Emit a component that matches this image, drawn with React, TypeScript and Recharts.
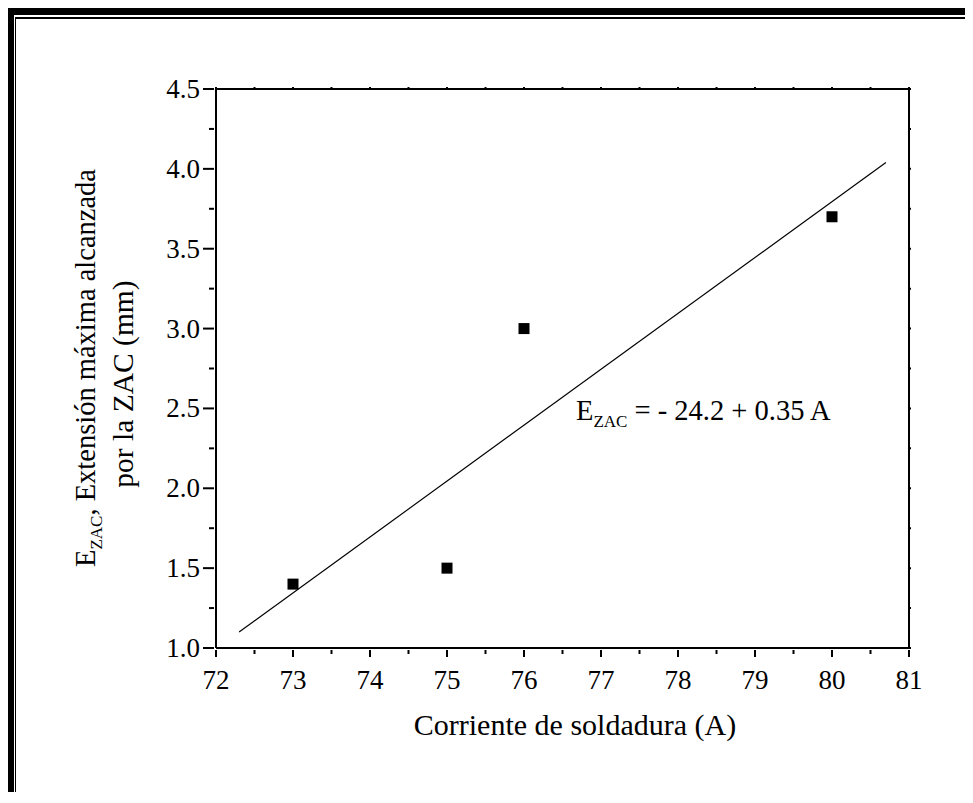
import React from "react";
import {
  ComposedChart,
  Scatter,
  Line,
  XAxis,
  YAxis,
  ZAxis,
} from "recharts";

// corriente (A) vs extensión de la ZAC (mm)
const corriente = [73, 75, 76, 80];
const extension = [1.4, 1.5, 3.0, 3.7];

// recta de ajuste E = -24.2 + 0.35 A (extremos)
const ajusteX = [72.3, 80.7];
const ajusteY = [1.1, 4.04];

const xTicks = [72, 72.5, 73, 73.5, 74, 74.5, 75, 75.5, 76, 76.5, 77, 77.5, 78, 78.5, 79, 79.5, 80, 80.5, 81];
const yTicks = [1, 1.25, 1.5, 1.75, 2, 2.25, 2.5, 2.75, 3, 3.25, 3.5, 3.75, 4, 4.25, 4.5];

const puntos = corriente.map((x, i) => ({ x, y: extension[i] }));
const ajuste = ajusteX.map((x, i) => ({ x, y: ajusteY[i] }));

const FONT = "'Liberation Serif', 'Times New Roman', serif";
const W = 965;
const H = 792;
const txt = { fontFamily: FONT, fill: "#000" };

const isMajor = (v: number) => Math.abs(v * 2 - Math.round(v * 2)) < 1e-6;

function BottomTick(props: any) {
  const { x, y, payload } = props;
  const major = Number.isInteger(payload.value);
  return (
    <g>
      <line x1={x} y1={y} x2={x} y2={y + (major ? 7 : 4)} stroke="#000" strokeWidth={2} />
      {major && (
        <text x={x} y={y + 39} textAnchor="middle" fontSize={27} style={txt}>
          {payload.value}
        </text>
      )}
    </g>
  );
}

function LeftTick(props: any) {
  const { x, y, payload } = props;
  const major = isMajor(payload.value);
  return (
    <g>
      <line x1={x} y1={y} x2={x - (major ? 11 : 5)} y2={y} stroke="#000" strokeWidth={2} />
      {major && (
        <text x={x - 14} y={y + 9} textAnchor="end" fontSize={27} style={txt}>
          {payload.value.toFixed(1)}
        </text>
      )}
    </g>
  );
}

function TopTick(props: any) {
  const { x, y } = props;
  return <line x1={x} y1={y} x2={x} y2={y + 2} stroke="#000" strokeWidth={2} />;
}

function RightTick(props: any) {
  const { x, y } = props;
  return <line x1={x} y1={y} x2={x - 2} y2={y} stroke="#000" strokeWidth={2} />;
}

const Cuadro = (props: any) => {
  const { cx, cy } = props;
  return <rect x={cx - 5.5} y={cy - 5.5} width={11} height={11} fill="#000" />;
};

export default function App() {
  return (
    <div style={{ position: "relative", width: W, height: H, overflow: "hidden", marginBottom: -8, background: "#fff" }}>
      {/* marco doble */}
      <div style={{ position: "absolute", left: 0, top: 0, width: W + 20, height: H + 20, borderLeft: "6px solid #000", borderTop: "7px solid #000", boxSizing: "border-box" }} />
      <div style={{ position: "absolute", left: 7, top: 9, width: W + 20, height: 783, borderLeft: "1.5px solid #000", borderTop: "2px solid #000", borderBottom: "2px solid #000", boxSizing: "border-box" }} />

      <div style={{ position: "absolute", left: 0, top: 0 }}>
        <ComposedChart width={W} height={H} margin={{ top: 51, right: 4, bottom: 122, left: 148 }}>
          <XAxis
            xAxisId="b"
            dataKey="x"
            type="number"
            domain={[72, 81]}
            ticks={xTicks}
            interval={0}
            height={30}
            tickSize={0}
            tickLine={false}
            axisLine={{ stroke: "#000", strokeWidth: 2 }}
            tick={<BottomTick />}
            allowDataOverflow
          />
          <XAxis
            xAxisId="t"
            orientation="top"
            dataKey="x"
            type="number"
            domain={[72, 81]}
            ticks={xTicks}
            interval={0}
            height={30}
            tickSize={0}
            tickLine={false}
            axisLine={{ stroke: "#000", strokeWidth: 2 }}
            tick={<TopTick />}
            allowDataOverflow
          />
          <YAxis
            yAxisId="l"
            dataKey="y"
            type="number"
            domain={[1, 4.5]}
            ticks={yTicks}
            interval={0}
            width={60}
            tickSize={0}
            tickLine={false}
            axisLine={{ stroke: "#000", strokeWidth: 2 }}
            tick={<LeftTick />}
            allowDataOverflow
          />
          <YAxis
            yAxisId="r"
            orientation="right"
            dataKey="y"
            type="number"
            domain={[1, 4.5]}
            ticks={yTicks}
            interval={0}
            width={60}
            tickSize={0}
            tickLine={false}
            axisLine={{ stroke: "#000", strokeWidth: 2 }}
            tick={<RightTick />}
            allowDataOverflow
          />
          <ZAxis range={[121, 121]} />
          <Line
            xAxisId="b"
            yAxisId="l"
            data={ajuste}
            dataKey="y"
            type="linear"
            stroke="#000"
            strokeWidth={1.2}
            dot={false}
            activeDot={false}
            isAnimationActive={false}
          />
          <Scatter
            xAxisId="b"
            yAxisId="l"
            data={puntos}
            dataKey="y"
            fill="#000"
            shape={<Cuadro />}
            isAnimationActive={false}
          />
        </ComposedChart>
      </div>

      {/* textos */}
      <svg width={W} height={H} style={{ position: "absolute", left: 0, top: 0, pointerEvents: "none" }}>
        <text x={568} y={412} fontSize={28.5} style={txt}>
          E<tspan fontSize={17} dy={7} style={txt}>ZAC</tspan>
          <tspan dy={-7} style={txt}> = - 24.2 + 0.35 A</tspan>
        </text>
        <text x={567} y={727} fontSize={30} textAnchor="middle" style={txt}>
          Corriente de soldadura (A)
        </text>
        <g transform="translate(87,360) rotate(-90)">
          <text x={0} y={0} fontSize={28.5} textAnchor="middle" style={txt}>
            E<tspan fontSize={17} dy={7} style={txt}>ZAC</tspan>
            <tspan dy={-7} style={txt}>, Extensión máxima alcanzada</tspan>
          </text>
        </g>
        <g transform="translate(125,376) rotate(-90)">
          <text x={0} y={0} fontSize={29.5} textAnchor="middle" style={txt}>
            por la ZAC (mm)
          </text>
        </g>
      </svg>
    </div>
  );
}
